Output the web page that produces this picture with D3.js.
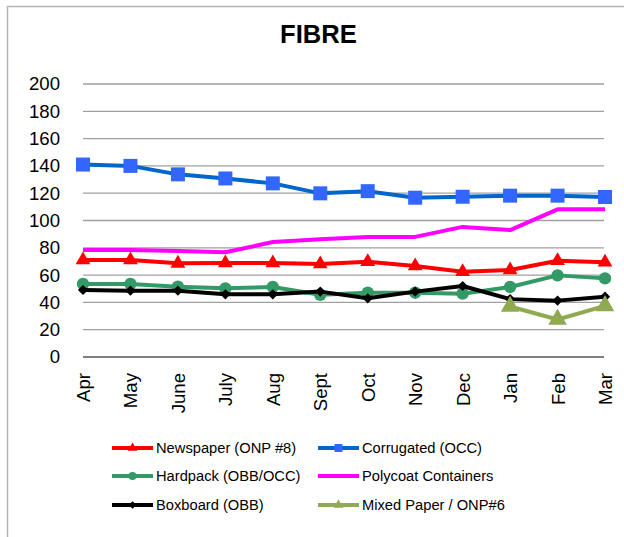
<!DOCTYPE html>
<html>
<head>
<meta charset="utf-8">
<script src="https://cdn.jsdelivr.net/npm/d3@7"></script>
<style>
  body { margin: 0; background: #fff; }
  svg { display: block; font-family: "Liberation Sans", Arial, sans-serif; }
</style>
</head>
<body>
<div id="chart"></div>
<script>
// FIBRE price chart

var months = ["Apr", "May", "June", "July", "Aug", "Sept", "Oct", "Nov", "Dec", "Jan", "Feb", "Mar"];
var yTicks = [0, 20, 40, 60, 80, 100, 120, 140, 160, 180, 200];

var newspaper = [71, 71, 68.6, 68.9, 68.9, 68.1, 69.8, 66.7, 62.5, 63.7, 70.5, 69.4];
var corrugated = [141, 140, 133.8, 130.8, 127.2, 119.9, 121.5, 116.7, 117.4, 118.2, 118.2, 117.2];
var hardpack = [53.5, 53.5, 51.5, 50.3, 51.3, 45.6, 47.1, 47.1, 46.4, 51.3, 59.8, 57.6];
var polycoat = [78.4, 78.4, 77.7, 76.7, 84.2, 86.2, 88, 88, 95.3, 93, 108.2, 108.2];
var boxboard = [49.1, 48.6, 48.6, 45.9, 45.9, 47.9, 43, 47.9, 52, 42.4, 41.3, 44.2];
var mixedPaper = [null, null, null, null, null, null, null, null, null, 37, 27.5, 37.5];

var width = 624;
var height = 537;

var svg = d3.select("#chart")
    .append("svg")
    .attr("width", width)
    .attr("height", height);

// outer chart border (only top/left edges visible)
svg.append("rect")
    .attr("x", 7.5)
    .attr("y", 6.5)
    .attr("width", 700)
    .attr("height", 600)
    .attr("fill", "#fff")
    .attr("stroke", "#b4b4b4")
    .attr("stroke-width", 1.5);

svg.append("text")
    .attr("x", 318.5)
    .attr("y", 43)
    .attr("text-anchor", "middle")
    .attr("font-size", "25.6px")
    .attr("font-weight", "bold")
    .text("FIBRE");

var x = d3.scalePoint().domain(months).range([83, 605]);
var y = d3.scaleLinear().domain([0, 200]).range([357, 84]);

// gridlines
svg.append("g")
    .selectAll("line")
    .data(yTicks)
    .enter()
    .append("line")
    .attr("x1", 83)
    .attr("x2", 604)
    .attr("y1", function(d) { return y(d); })
    .attr("y2", function(d) { return y(d); })
    .attr("stroke", function(d) { return d === 0 ? "#000" : "#a0a0a0"; })
    .attr("stroke-width", function(d) { return d === 0 ? 1.2 : 1.3; });

// y axis labels
var yAxis = d3.axisLeft(y).tickValues(yTicks).tickSize(0).tickPadding(0);
var yG = svg.append("g")
    .attr("transform", "translate(60,0)")
    .call(yAxis);
yG.select(".domain").remove();
yG.selectAll("text")
    .attr("font-size", "18.6px")
    .attr("font-family", "Liberation Sans, Arial, sans-serif")
    .attr("fill", "#000");

// x axis labels
var xAxis = d3.axisBottom(x).tickSize(0).tickPadding(0);
var xG = svg.append("g")
    .attr("transform", "translate(0,373)")
    .call(xAxis);
xG.select(".domain").remove();
xG.selectAll("text")
    .attr("font-size", "18.6px")
    .attr("font-family", "Liberation Sans, Arial, sans-serif")
    .attr("fill", "#000")
    .attr("text-anchor", "end")
    .attr("transform", "rotate(-90)")
    .attr("x", 0)
    .attr("y", 0)
    .attr("dy", "0.35em");

var series = [
    {name: "Newspaper (ONP #8)", values: newspaper, line: "#ff0000", fill: "#ff0000", sym: d3.symbolTriangle, size: 95, rot: 0, lsize: 40},
    {name: "Corrugated (OCC)", values: corrugated, line: "#0066cc", fill: "#3366ff", sym: d3.symbolSquare, size: 196, rot: 0, lsize: 64},
    {name: "Hardpack (OBB/OCC)", values: hardpack, line: "#339966", fill: "#339966", sym: d3.symbolCircle, size: 120, rot: 0, lsize: 50},
    {name: "Polycoat Containers", values: polycoat, line: "#ff00ff", fill: "#ff00ff", sym: null},
    {name: "Boxboard (OBB)", values: boxboard, line: "#000000", fill: "#000000", sym: d3.symbolSquare, size: 52, rot: 45, lsize: 30},
    {name: "Mixed Paper / ONP#6", values: mixedPaper, line: "#8faa50", fill: "#8faa50", sym: d3.symbolTriangle, size: 150, rot: 0, lsize: 40}
];

var lineGen = d3.line()
    .defined(function(d) { return d != null; })
    .x(function(d, i) { return x(months[i]); })
    .y(function(d) { return y(d); });

// draw order: later series on top
var drawOrder = [3, 1, 0, 2, 4, 5];
drawOrder.forEach(function(k) {
    var s = series[k];
    svg.append("path")
        .attr("d", lineGen(s.values))
        .attr("fill", "none")
        .attr("stroke", s.line)
        .attr("stroke-width", 4)
        .attr("stroke-linejoin", "round");
    if (s.sym) {
        svg.append("g")
            .selectAll("path")
            .data(s.values.map(function(v, i) { return {v: v, m: months[i]}; })
                .filter(function(d) { return d.v != null; }))
            .enter()
            .append("path")
            .attr("d", d3.symbol().type(s.sym).size(s.size))
            .attr("transform", function(d) {
                return "translate(" + x(d.m) + "," + y(d.v) + ") rotate(" + s.rot + ")";
            })
            .attr("fill", s.fill);
    }
});

// legend
var legendRows = [448, 476, 505];
var legendCols = [112, 318];
series.forEach(function(s, i) {
    var lx = legendCols[i % 2];
    var ly = legendRows[Math.floor(i / 2)];
    var g = svg.append("g").attr("transform", "translate(" + lx + "," + ly + ")");
    g.append("line")
        .attr("x1", 0)
        .attr("x2", 41)
        .attr("stroke", s.line)
        .attr("stroke-width", 4);
    if (s.sym) {
        g.append("path")
            .attr("d", d3.symbol().type(s.sym).size(s.lsize))
            .attr("transform", "translate(20.5,0) rotate(" + s.rot + ")")
            .attr("fill", s.fill);
    }
    g.append("text")
        .attr("x", 44)
        .attr("dy", "0.35em")
        .attr("font-size", "14.7px")
        .attr("fill", "#000")
        .text(s.name);
});
</script>
</body>
</html>
